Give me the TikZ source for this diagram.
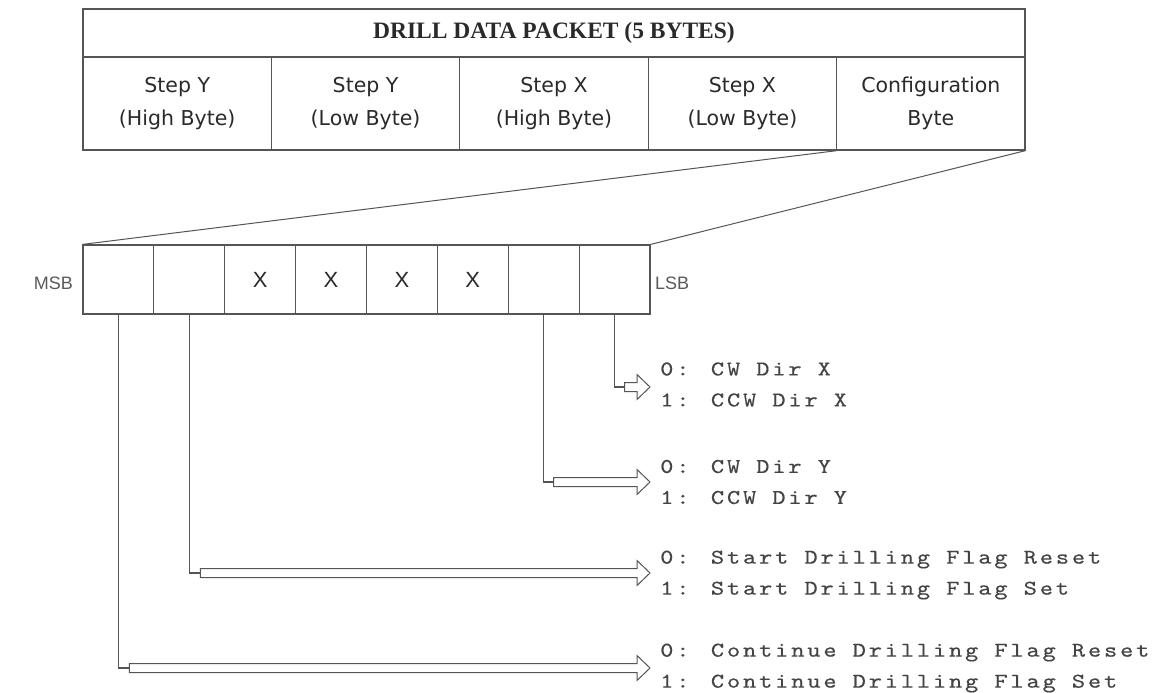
\documentclass[tikz,border=0pt]{standalone}
\usepackage{fontspec}
\usetikzlibrary{calc}
\newfontfamily\cellfont{DejaVu Sans}
\newfontfamily\labfont{Liberation Sans}
\newfontfamily\headfont{Liberation Serif}
\newfontfamily\monof{lmmono10-regular.otf}[FakeStretch=1.2,LetterSpace=13.5,FakeBold=0.3]
\definecolor{linec}{HTML}{555555}
\definecolor{txtc}{HTML}{2A2A2A}
\definecolor{monoc}{HTML}{444444}
\definecolor{labc}{HTML}{5A5A5A}
\newcommand\hollowarrow[2]{%
  \draw[harrow] ($(#1)+(0,-4.5)$) -- ($(#2)+(-13,-4.5)$) -- ($(#2)+(-13,-12.5)$) -- (#2)
    -- ($(#2)+(-13,12.5)$) -- ($(#2)+(-13,4.5)$) -- ($(#1)+(0,4.5)$) -- cycle;}
\begin{document}
\begin{tikzpicture}[x=1pt,y=-1pt,
  box/.style={draw=linec, line width=1.2pt, inner sep=0pt},
  head/.style={box, minimum width=942pt, minimum height=48pt,
    font=\headfont\bfseries\fontsize{23.5}{28}\selectfont, text=txtc},
  cell/.style={box, minimum width=188.4pt, minimum height=93pt, align=center,
    font=\cellfont\fontsize{20.5}{33}\selectfont, text=txtc},
  bit/.style={box, minimum width=70.875pt, minimum height=69pt,
    font=\labfont\fontsize{22}{26}\selectfont, text=txtc},
  sidelab/.style={inner sep=0pt, font=\labfont\fontsize{18}{21}\selectfont, text=labc},
  desc/.style={anchor=west, inner sep=0pt, align=left,
    font=\monof\fontsize{21}{31}\selectfont, text=monoc},
  conn/.style={draw=linec, line width=1.2pt},
  harrow/.style={draw=linec, line width=1pt, fill=white, line join=miter}
]
\fill[white] (0,0) rectangle (1164,693);
\useasboundingbox (0,0) rectangle (1164,693);

% top packet table
\node[head] (hdr) at (554,33) {DRILL DATA PACKET (5 BYTES)};
\node[cell] (syh) at (177.2,103.5) {Step Y\\(High Byte)};
\node[cell] (syl) at (365.6,103.5) {Step Y\\(Low Byte)};
\node[cell] (sxh) at (554,103.5) {Step X\\(High Byte)};
\node[cell] (sxl) at (742.4,103.5) {Step X\\(Low Byte)};
\node[cell] (cfg) at (930.8,103.5) {Configuration\\Byte};

% configuration byte bits
\node[bit] (b7) at (118.44,279.5) {};
\node[bit] (b6) at (189.31,279.5) {};
\node[bit] (b5) at (260.19,279.5) {X};
\node[bit] (b4) at (331.06,279.5) {X};
\node[bit] (b3) at (401.94,279.5) {X};
\node[bit] (b2) at (472.81,279.5) {X};
\node[bit] (b1) at (543.69,279.5) {};
\node[bit] (b0) at (614.56,279.5) {};
\node[sidelab, anchor=east] (msb) at (73,283) {MSB};
\node[sidelab, anchor=west] (lsb) at (655,283) {LSB};

% expansion lines
\draw[conn, line width=1pt] (sxl.south east) -- (b7.north west);
\draw[conn, line width=1pt] (cfg.south east) -- (b0.north east);

% arrow coordinates
\coordinate (s0) at (624.56,387); \coordinate (t0) at (650,387);
\coordinate (s1) at (553.69,482); \coordinate (t1) at (650,482);
\coordinate (s6) at (200.31,573); \coordinate (t6) at (650,573);
\coordinate (s7) at (129.44,668); \coordinate (t7) at (650,668);

\draw[conn] (b0.south) |- (s0);
\draw[conn] (b1.south) |- (s1);
\draw[conn] (b6.south) |- (s6);
\draw[conn] (b7.south) |- (s7);
\hollowarrow{s0}{t0}
\hollowarrow{s1}{t1}
\hollowarrow{s6}{t6}
\hollowarrow{s7}{t7}

% descriptions
\node[desc] (d0) at (660,384.5) {0: CW Dir X\\1: CCW Dir X};
\node[desc] (d1) at (660,482) {0: CW Dir Y\\1: CCW Dir Y};
\node[desc] (d6) at (660,575) {0: Start Drilling Flag Reset\\1: Start Drilling Flag Set};
\node[desc] (d7) at (660,668) {0: Continue Drilling Flag Reset\\1: Continue Drilling Flag Set};
\end{tikzpicture}
\end{document}
